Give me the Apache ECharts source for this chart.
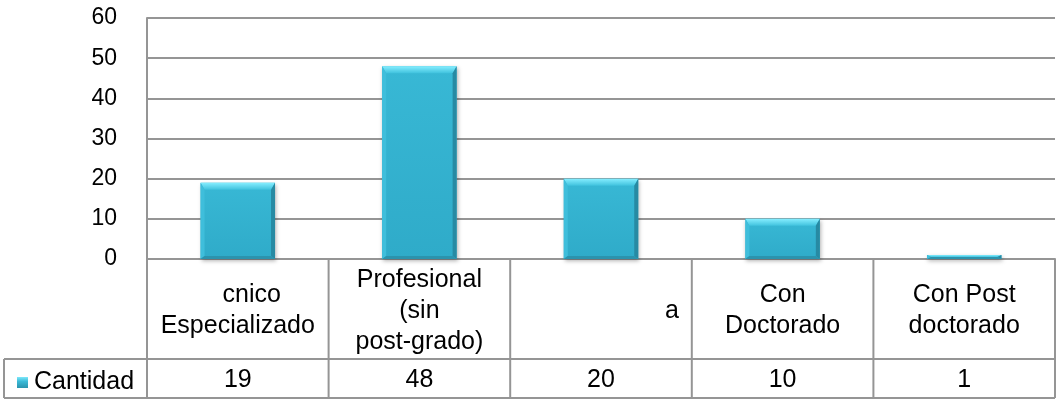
<!DOCTYPE html>
<html>
<head>
<meta charset="utf-8">
<title>Cantidad</title>
<script src="https://cdn.jsdelivr.net/npm/echarts@6/dist/echarts.min.js"></script>
<style>
  html, body { margin: 0; padding: 0; background: #fff; }
  #chart { width: 1057px; height: 400px; }
</style>
</head>
<body>
<div id="chart"></div>
<script>
// Data
const categories = ['    cnico\nEspecializado', 'Profesional\n(sin\npost-grado)', 'a', 'Con\nDoctorado', 'Con Post\ndoctorado'];
const values = [19, 48, 20, 10, 1];
const seriesName = 'Cantidad';
const yTicks = [0, 10, 20, 30, 40, 50, 60];

// Layout
const W = 1057, H = 400;
const gridLeft = 147, gridRight = 2, gridTop = 18, gridBottom = 141;
const plotRight = W - gridRight;
const axisY = H - gridBottom;           // y of the zero line / top of the data table
const rowSplitY = 359;                  // between category row and value row
const tableBottom = 398;
const legendCellLeft = 4;
const lineColor = '#959595';
const font = "'Liberation Sans', Arial, sans-serif";
const tableFontSize = 25;

const chart = echarts.init(document.getElementById('chart'), null, { renderer: 'canvas' });

// Bevelled bar drawn through the axes' own coordinate mapping
function renderBar(params, api) {
  const i = api.value(0);
  const v = api.value(1);
  const top = api.coord([i, v]);
  const base = api.coord([i, 0]);
  const band = api.size([1, 0])[0];
  const w = band * 0.41;
  const x0 = top[0] - w / 2, x1 = x0 + w;
  const y0 = top[1], y1 = base[1];
  const h = y1 - y0;
  const bt = Math.min(7, h / 2);   // top bevel
  const bb = Math.min(3, h / 2);   // bottom bevel
  const bl = 4, br = 4;            // side bevels
  return {
    type: 'group',
    children: [
      {
        type: 'rect',
        shape: { x: x0, y: y0, width: w, height: h },
        style: {
          fill: new echarts.graphic.LinearGradient(0, 0, 0, 1, [
            { offset: 0, color: '#38b8d5' },
            { offset: 1, color: '#2fabc9' }
          ]),
          shadowBlur: 4, shadowOffsetX: 1, shadowOffsetY: 2,
          shadowColor: 'rgba(0,0,0,0.3)'
        }
      },
      {
        type: 'polygon',
        shape: { points: [[x0, y0], [x1, y0], [x1 - br, y0 + bt], [x0 + bl, y0 + bt]] },
        style: {
          fill: new echarts.graphic.LinearGradient(0, 0, 0, 1, [
            { offset: 0, color: '#86eeff' },
            { offset: 1, color: '#40c2de' }
          ])
        }
      },
      {
        type: 'polygon',
        shape: { points: [[x0, y0], [x0 + bl, y0 + bt], [x0 + bl, y1 - bb], [x0, y1]] },
        style: { fill: '#3fbedb' }
      },
      {
        type: 'polygon',
        shape: { points: [[x1, y0], [x1, y1], [x1 - br, y1 - bb], [x1 - br, y0 + bt]] },
        style: { fill: '#278aa3' }
      },
      {
        type: 'polygon',
        shape: { points: [[x0, y1], [x0 + bl, y1 - bb], [x1 - br, y1 - bb], [x1, y1]] },
        style: { fill: '#2b93ad' }
      }
    ]
  };
}

// Data table grid lines
const band = (plotRight - gridLeft) / categories.length;
const tableLines = [];
function hLine(xa, xb, y) {
  tableLines.push({ type: 'line', silent: true, z: 10,
    shape: { x1: xa, y1: y, x2: xb, y2: y },
    style: { stroke: lineColor, lineWidth: 2 } });
}
function vLine(x, ya, yb) {
  tableLines.push({ type: 'line', silent: true, z: 10,
    shape: { x1: x, y1: ya, x2: x, y2: yb },
    style: { stroke: lineColor, lineWidth: 2 } });
}
hLine(legendCellLeft, plotRight, rowSplitY);
hLine(legendCellLeft, plotRight, tableBottom);
vLine(gridLeft, gridTop, tableBottom);
for (let k = 1; k <= categories.length; k++) {
  vLine(gridLeft + band * k, axisY, tableBottom);
}
vLine(legendCellLeft, rowSplitY, tableBottom);

chart.setOption({
  animation: false,
  backgroundColor: '#fff',
  textStyle: { fontFamily: font },
  grid: { left: gridLeft, right: gridRight, top: gridTop, bottom: gridBottom, containLabel: false },
  legend: {
    data: [seriesName],
    left: 12,
    top: 365,
    icon: 'rect',
    itemWidth: 11,
    itemHeight: 11,
    itemGap: 0,
    itemStyle: {
      color: new echarts.graphic.LinearGradient(0, 0, 0, 1, [
        { offset: 0, color: '#7ee8fb' },
        { offset: 0.4, color: '#3bbad7' },
        { offset: 1, color: '#2a93ad' }
      ])
    },
    textStyle: { fontSize: 25, color: '#000', fontFamily: font, padding: [0, 0, 0, 1] },
    selectedMode: false
  },
  xAxis: [
    {
      type: 'category',
      data: categories,
      position: 'bottom',
      axisLine: { show: true, lineStyle: { color: lineColor, width: 2 } },
      axisTick: { show: false },
      splitLine: { show: false },
      axisLabel: {
        interval: 0,
        margin: 52,
        verticalAlign: 'middle',
        fontSize: tableFontSize,
        lineHeight: 31,
        color: '#000',
        fontFamily: font,
        formatter: function (v, i) {
          return i === 2 ? '{r|' + v + '}' : v;
        },
        rich: {
          r: { fontSize: tableFontSize, color: '#000', fontFamily: font, padding: [0, 0, 0, 142] }
        }
      }
    },
    {
      type: 'category',
      data: categories,
      position: 'bottom',
      axisLine: { show: false },
      axisTick: { show: false },
      splitLine: { show: false },
      axisLabel: {
        interval: 0,
        margin: 121,
        verticalAlign: 'middle',
        fontSize: tableFontSize,
        color: '#000',
        fontFamily: font,
        formatter: function (v, i) { return String(values[i]); }
      }
    }
  ],
  yAxis: {
    type: 'value',
    min: yTicks[0],
    max: yTicks[yTicks.length - 1],
    interval: yTicks[1] - yTicks[0],
    axisLine: { show: true, lineStyle: { color: lineColor, width: 2 } },
    axisTick: { show: false },
    splitLine: { show: true, lineStyle: { color: lineColor, width: 2 } },
    axisLabel: { fontSize: 23, color: '#000', margin: 30, fontFamily: font }
  },
  series: [
    {
      name: seriesName,
      type: 'custom',
      xAxisIndex: 0,
      yAxisIndex: 0,
      renderItem: renderBar,
      itemStyle: { color: '#38b6d4' },
      encode: { x: 0, y: 1 },
      data: values.map(function (v, i) { return [i, v]; }),
      z: 5
    }
  ],
  graphic: tableLines
});
</script>
</body>
</html>
